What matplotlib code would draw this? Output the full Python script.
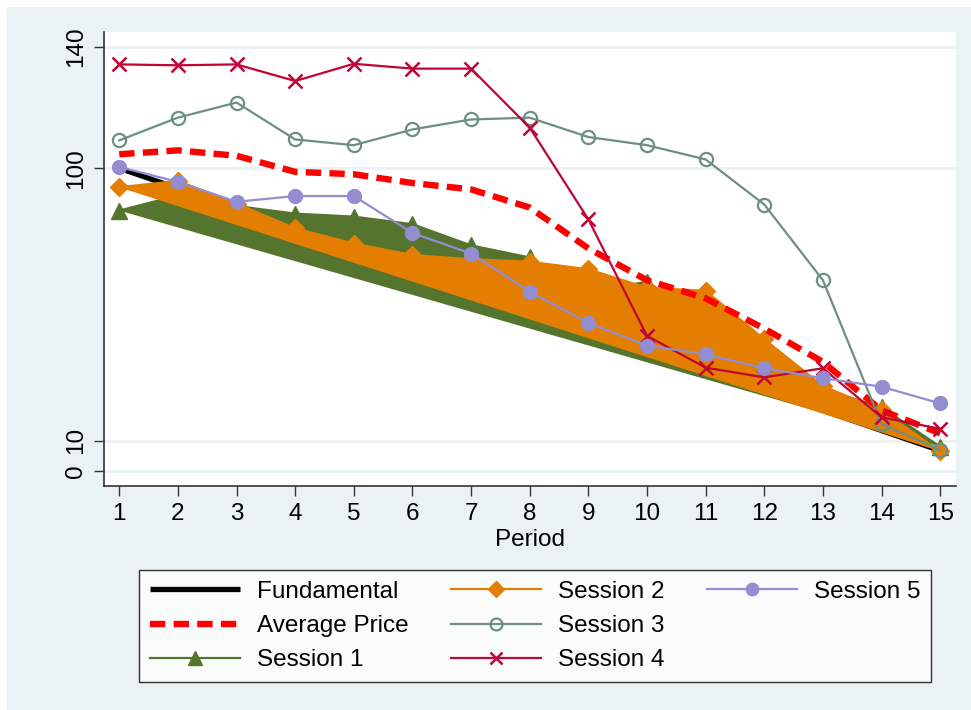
import numpy as np
import matplotlib.pyplot as plt
from matplotlib.patches import Rectangle
from matplotlib.lines import Line2D

plt.rcParams['font.family'] = ['Liberation Sans', 'DejaVu Sans']

# === DATOS ===
periods = list(range(1, 16))
fundamental = [100, 93.33, 86.67, 80, 73.33, 66.67, 60, 53.33, 46.67, 40, 33.33, 26.67, 20, 13.33, 6.67]
average = [104.6, 105.9, 104.1, 98.8, 98.0, 95.1, 93.0, 87.0, 73.5, 63.0, 57.0, 47.0, 36.0, 20.0, 12.4]
session1 = [86.0, 91.0, 87.5, 85.0, 84.0, 81.5, 74.5, 70.5, 59.0, 62.5, 50.0, 38.5, 27.0, 21.0, 8.0]
session2 = [93.7, 95.8, 88.3, 80.1, 75.1, 71.3, 69.9, 69.1, 66.6, 60.5, 59.5, 43.5, 28.0, 20.0, 6.4]
session3 = [109.2, 116.7, 121.7, 109.5, 107.6, 112.8, 116.1, 116.7, 110.3, 107.6, 102.9, 88.0, 63.0, 15.5, 6.9]
session4 = [134.3, 134.0, 134.3, 128.8, 134.5, 132.9, 132.9, 113.4, 83.1, 44.6, 34.1, 30.9, 33.9, 17.7, 13.9]
session5 = [100.4, 95.5, 88.9, 90.8, 90.8, 78.6, 71.8, 59.2, 48.9, 41.4, 38.5, 33.9, 30.6, 27.8, 22.3]
yticks = [0, 10, 100, 140]

# colores estilo Stata s2color
bg = '#EAF2F3'
c_s1 = '#55752F'
c_s2 = '#E37E00'
c_s3 = '#6E8E84'
c_s4 = '#C10534'
c_s5 = '#938DD2'

fig = plt.figure(figsize=(9.71, 7.10), dpi=100)
fig.patch.set_facecolor('white')
fig.add_artist(Rectangle((7 / 971, 0), 1, 1 - 7 / 710, transform=fig.transFigure,
                         facecolor=bg, edgecolor='none', zorder=-10))

ax = fig.add_axes([104 / 971, 1 - 486 / 710, (956 - 104) / 971, (486 - 32) / 710])
ax.set_facecolor('white')

# lineas de la grilla
for yv in yticks:
    ax.axhline(yv, color=bg, lw=2, zorder=0)

ax.plot(periods, fundamental, color='black', lw=3.8, solid_capstyle='butt',
        label='Fundamental', zorder=2)

# sesiones 1 y 2 como areas
ax.fill(periods, session1, color=c_s1, lw=0, zorder=3)
ax.plot(periods, session1, color=c_s1, lw=1.6, marker='^', ms=11,
        label='Session 1', zorder=3)
ax.fill(periods, session2, color=c_s2, lw=0, zorder=4)
ax.plot(periods, session2, color=c_s2, lw=1.6, marker='D', ms=9.5,
        label='Session 2', zorder=4)

ax.plot(periods, average, color='#FF0000', lw=4.6, dashes=(2.4, 1.3),
        label='Average Price', zorder=5)

ax.plot(periods, session3, color=c_s3, lw=1.6, marker='o', ms=9.5,
        mfc='none', mew=1.6, label='Session 3', zorder=6)
ax.plot(periods, session4, color=c_s4, lw=1.6, marker='x', ms=10,
        mew=1.8, label='Session 4', zorder=7)
ax.plot(periods, session5, color=c_s5, lw=1.6, marker='o', ms=10,
        label='Session 5', zorder=8)

ax.set_xlim(0.74, 15.27)
ax.set_ylim(-5, 145)
ax.set_xticks(periods)
ax.set_yticks(yticks)
ax.set_yticklabels([str(v) for v in yticks], rotation=90, va='center')
ax.tick_params(axis='both', labelsize=17.5, length=7, width=1, color='#333333')
ax.tick_params(axis='y', pad=5)
ax.tick_params(axis='x', pad=5)
ax.set_xlabel('Period', fontsize=17.5, labelpad=3)

for s in ['top', 'right']:
    ax.spines[s].set_visible(False)
for s in ['left', 'bottom']:
    ax.spines[s].set_color('#333333')
    ax.spines[s].set_linewidth(1.2)

# leyenda en el orden del original (3, 3, 1 por columna)
handles, labels = ax.get_legend_handles_labels()
order = ['Fundamental', 'Average Price', 'Session 1', 'Session 2',
         'Session 3', 'Session 4', 'Session 5']
hmap = dict(zip(labels, handles))
blank = Line2D([], [], alpha=0)
leg_h = [hmap[k] for k in order] + [blank, blank]
leg_l = order + ['', '']
leg = fig.legend(leg_h, leg_l, ncol=3, loc='center',
                 bbox_to_anchor=((137 + 933) / 2 / 971, 1 - (569 + 683) / 2 / 710),
                 fontsize=17.5, frameon=True, fancybox=False, handlelength=3.7,
                 handletextpad=0.7, columnspacing=1.75, labelspacing=0.5,
                 borderpad=0.45, markerscale=0.9)
leg.get_frame().set_edgecolor('black')
leg.get_frame().set_linewidth(1.0)

fig.savefig('out.png', dpi=100, facecolor=fig.get_facecolor())
